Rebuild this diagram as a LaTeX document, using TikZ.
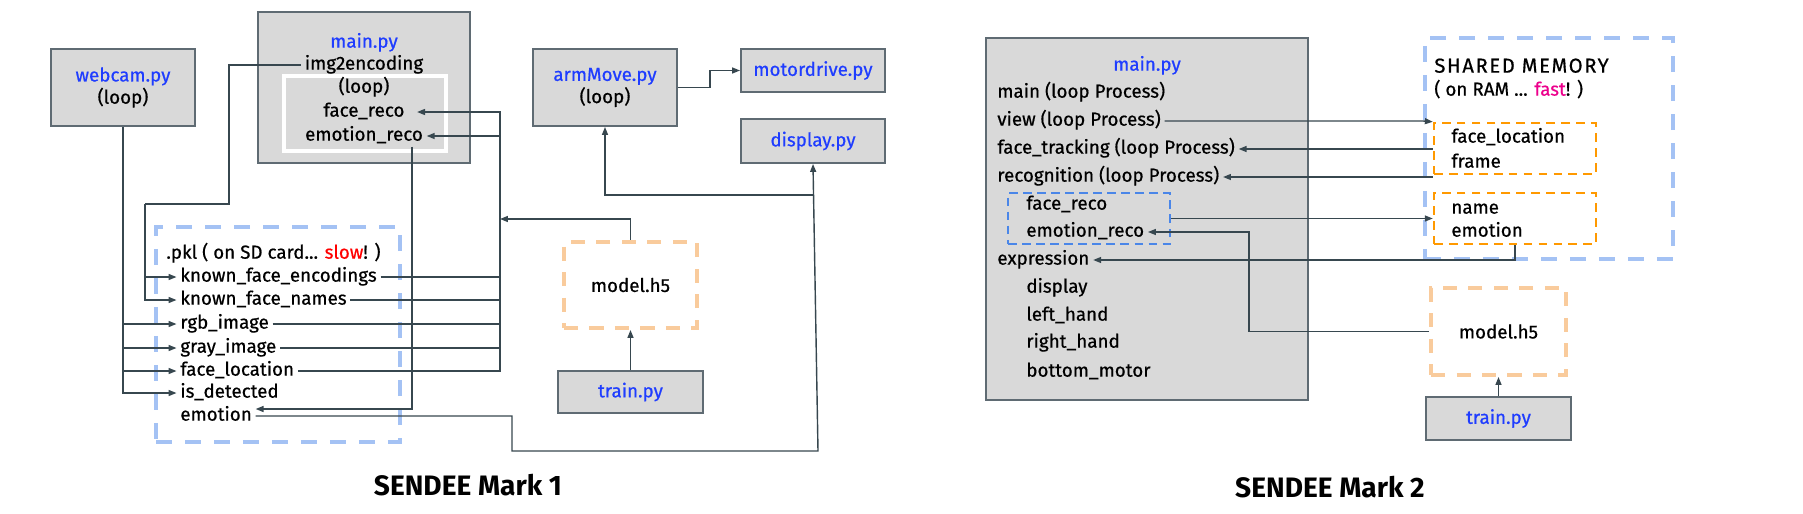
\documentclass[tikz,border=0pt]{standalone}
\usepackage{fontspec}
\setmainfont{Fira Sans}[UprightFeatures={FakeBold=0.6}]
\usepackage{xcolor}
\usepackage{tikz}
\usetikzlibrary{arrows.meta, positioning}

\definecolor{boxgray}{HTML}{D9D9D9}
\definecolor{boxline}{HTML}{5F6B73}
\definecolor{wirecol}{HTML}{37474F}
\definecolor{fileblue}{HTML}{1F3DFF}
\definecolor{ramblue}{HTML}{A4C2F4}
\definecolor{h5orange}{HTML}{F9CB9C}
\definecolor{shmorange}{HTML}{FF9900}
\definecolor{recoblue}{HTML}{4A86E8}

\begin{document}
\begin{tikzpicture}[x=0.02cm, y=-0.02cm, >={Triangle[length=4.5pt, width=3.4pt]},
    every node/.style={font=\fontsize{10.7}{12.6}\selectfont}]
    \useasboundingbox (0,0) rectangle (1803,514);

    % Define block styles
    \tikzstyle{pyfile} = [draw=boxline, fill=boxgray, line width=1.1pt, rectangle, align=center]
    \tikzstyle{item} = [anchor=west, inner xsep=2pt, inner ysep=1pt, text height=7.5pt, text depth=2.2pt]
    \tikzstyle{ctext} = [inner xsep=2pt, inner ysep=1pt, text height=7.5pt, text depth=2.2pt]
    \tikzstyle{ram} = [draw=ramblue, line width=2.3pt, dash pattern=on 9pt off 7.5pt, rectangle]
    \tikzstyle{h5} = [draw=h5orange, line width=2.3pt, dash pattern=on 8pt off 6.5pt, rectangle]
    \tikzstyle{shm} = [draw=shmorange, line width=1.4pt, dash pattern=on 5pt off 3.5pt, rectangle]
    \tikzstyle{group} = [draw=recoblue, line width=1.1pt, dash pattern=on 5pt off 3pt, rectangle]
    \tikzstyle{wire} = [draw=wirecol, line width=0.8pt]
    \tikzstyle{marktitle} = [font=\fontsize{16}{19}\selectfont\bfseries]

    % ---------------- Mark 1 ----------------
    % Nodes
    \node[pyfile, minimum width=2.88cm, minimum height=1.54cm] (webcam) at (123,87.5) {\textcolor{fileblue}{webcam.py}\\(loop)};
    \node[pyfile, minimum width=4.24cm, minimum height=3.02cm] (main1) at (364,87.5) {};
    \node[draw=white, line width=1.8pt, minimum width=3.24cm, minimum height=1.5cm] (loop1) at (365,113.5) {};
    \node[ctext] (main1t) at (364,43) {\textcolor{fileblue}{main.py}};
    \node[ctext] (i2e) at (364,65) {img2encoding};
    \node[ctext] (loop1t) at (364,88) {(loop)};
    \node[ctext] (fr1) at (364,112) {face\_reco};
    \node[ctext] (er1) at (364,136) {emotion\_reco};

    \node[ram, minimum width=4.88cm, minimum height=4.3cm] (pkl) at (278,334.5) {};
    \node[item] (pklt) at (162.5,254) {.pkl ( on SD card... \textcolor{red}{slow}! )};
    \node[item] (kfe) at (176.5,277) {known\_face\_encodings};
    \node[item] (kfn) at (176.5,300) {known\_face\_names};
    \node[item] (rgb) at (176.5,324) {rgb\_image};
    \node[item] (gray) at (176.5,348) {gray\_image};
    \node[item] (floc) at (176.5,371) {face\_location};
    \node[item] (isdet) at (176.5,393) {is\_detected};
    \node[item] (emo1) at (176.5,416) {emotion};

    \node[pyfile, minimum width=2.88cm, minimum height=1.54cm] (arm) at (605,87.5) {\textcolor{fileblue}{armMove.py}\\(loop)};
    \node[pyfile, minimum width=2.88cm, minimum height=0.86cm] (motor) at (813,70.5) {\textcolor{fileblue}{motordrive.py}};
    \node[pyfile, minimum width=2.88cm, minimum height=0.88cm] (disp1) at (813,141) {\textcolor{fileblue}{display.py}};
    \node[h5, minimum width=2.66cm, minimum height=1.72cm] (model1) at (630.5,285) {model.h5};
    \node[pyfile, minimum width=2.9cm, minimum height=0.84cm] (train1) at (630.5,392) {\textcolor{fileblue}{train.py}};
    \node[marktitle] (title1) at (468,485) {SENDEE Mark 1};

    % bends
    \coordinate (i2eA) at (229,204);
    \coordinate (i2eB) at (145,204);
    \coordinate (bus) at (500,219);
    \coordinate (erdrop) at (412,409);
    \coordinate (emoA) at (512,451);
    \coordinate (emoB) at (818,451);
    \coordinate (armtap) at (813.5,195);

    \draw[wire] (i2e.west) -| (i2eA) -- (i2eB);
    \draw[wire,->] (i2eB) |- (kfn.west);
    \draw[wire,->] (i2eB |- kfe.west) -- (kfe.west);
    \draw[wire,->] (webcam.south) |- (isdet.west);
    \draw[wire,->] (webcam.south |- rgb.west) -- (rgb.west);
    \draw[wire,->] (webcam.south |- gray.west) -- (gray.west);
    \draw[wire,->] (webcam.south |- floc.west) -- (floc.west);
    \draw[wire] (kfe.east) -- (kfe.east -| bus);
    \draw[wire] (kfn.east) -- (kfn.east -| bus);
    \draw[wire] (rgb.east) -- (rgb.east -| bus);
    \draw[wire] (gray.east) -- (gray.east -| bus);
    \draw[wire,->] (floc.east) -| (bus |- fr1.east) -- ([xshift=5pt]fr1.east);
    \draw[wire,->] (er1.east -| bus) -- (er1.east);
    \draw[wire,->] (model1.north) |- (bus);
    \draw[wire,->] (er1.south -| erdrop) -- (erdrop) -- (erdrop -| emo1.east);
    \draw[wire,->] (emo1.east) -| (emoA) -- (emoB) -- (disp1.south);
    \draw[wire,->] (armtap) -| (arm.south);
    \draw[wire,->] (arm.east) -- ++(32,0) |- (motor.west);
    \draw[wire,->] (train1.north) -- (model1.south);

    % ---------------- Mark 2 ----------------
    % Nodes
    \node[pyfile, minimum width=6.44cm, minimum height=7.24cm] (main2) at (1147,219) {};
    \node[group, minimum width=3.24cm, minimum height=1.02cm] (recobox) at (1089,218.5) {};
    \node[ctext] (main2t) at (1147,66) {\textcolor{fileblue}{main.py}};
    \node[item] (mainp) at (993.5,93) {main (loop Process)};
    \node[item] (view) at (993.5,121) {view (loop Process)};
    \node[item] (ftrack) at (993.5,149) {face\_tracking (loop Process)};
    \node[item] (recog) at (993.5,177) {recognition (loop Process)};
    \node[item] (freco2) at (1022.5,205) {face\_reco};
    \node[item] (ereco2) at (1022.5,232) {emotion\_reco};
    \node[item] (expr) at (993.5,260) {expression};
    \node[item] (disp2) at (1022.5,288) {display};
    \node[item] (lhand) at (1022.5,316) {left\_hand};
    \node[item] (rhand) at (1022.5,343) {right\_hand};
    \node[item] (bmotor) at (1022.5,372) {bottom\_motor};

    \node[ram, minimum width=4.96cm, minimum height=4.42cm] (shmem) at (1549,148.5) {};
    \node[item, font=\fontsize{11.5}{13}\selectfont\addfontfeature{LetterSpace=8}] (shmt) at (1430.5,68) {SHARED MEMORY};
    \node[item] (ramt) at (1430.5,91) {( on RAM ... \textcolor{magenta}{fast}! )};
    \node[shm, minimum width=3.24cm, minimum height=1.02cm] (flocbox) at (1515,148.5) {};
    \node[item] (floc2) at (1447.5,138) {face\_location};
    \node[item] (frame) at (1447.5,163) {frame};
    \node[shm, minimum width=3.24cm, minimum height=1.02cm] (namebox) at (1515,218.5) {};
    \node[item] (nm2) at (1447.5,209) {name};
    \node[item] (emo2) at (1447.5,232) {emotion};
    \node[h5, minimum width=2.7cm, minimum height=1.74cm] (model2) at (1498.5,331.5) {model.h5};
    \node[pyfile, minimum width=2.9cm, minimum height=0.86cm] (train2) at (1498.5,418.5) {\textcolor{fileblue}{train.py}};
    \node[marktitle] (title2) at (1330,487) {SENDEE Mark 2};

    \coordinate (m2bend) at (1249,331.5);

    \draw[wire,->] (view.east) -- (view.east -| shmem.west) -- (flocbox.north west);
    \draw[wire,->] (flocbox.west |- ftrack.east) -- (ftrack.east);
    \draw[wire,->] (flocbox.west |- recog.east) -- (recog.east);
    \draw[wire,->] (recobox.east) -- (namebox.west);
    \draw[wire,->] (namebox.south) |- (expr.east);
    \draw[wire,->] (model2.west) -- (m2bend) |- (ereco2.east);
    \draw[wire,->] (train2.north) -- (model2.south);
\end{tikzpicture}
\end{document}
